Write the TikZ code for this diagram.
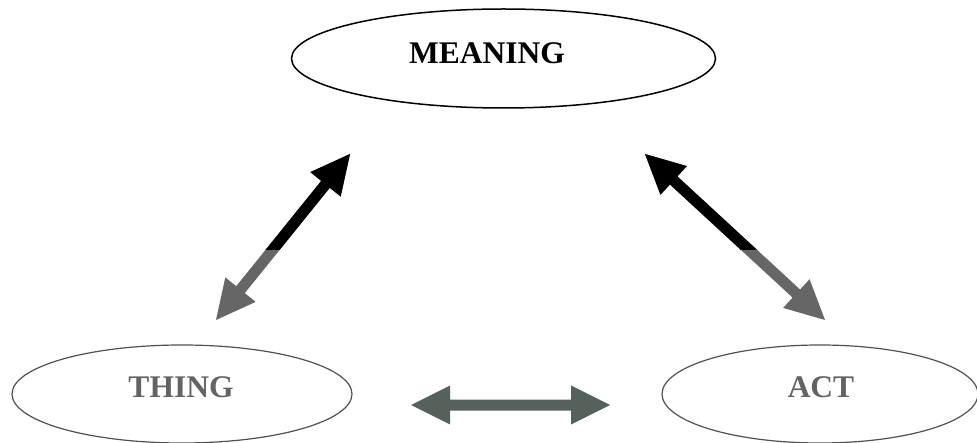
\documentclass[tikz,border=0pt]{standalone}
\usepackage{fontspec}
\setmainfont{Liberation Serif}
\usetikzlibrary{shapes.geometric,calc}
\definecolor{arrgray}{HTML}{666666}
\definecolor{arrdark}{HTML}{57615B}
\definecolor{txtgray}{HTML}{636363}
\definecolor{ringgray}{HTML}{505050}
\newcommand{\blockarrow}[3]{%
  \fill[#3] (#1)
    -- ($(#1)!39pt!(#2)!19.5pt!90:(#2)$)
    -- ($(#1)!39pt!(#2)!5.5pt!90:(#2)$)
    -- ($(#2)!39pt!(#1)!5.5pt!-90:(#1)$)
    -- ($(#2)!39pt!(#1)!19.5pt!-90:(#1)$)
    -- (#2)
    -- ($(#2)!39pt!(#1)!19.5pt!90:(#1)$)
    -- ($(#2)!39pt!(#1)!5.5pt!90:(#1)$)
    -- ($(#1)!39pt!(#2)!5.5pt!-90:(#2)$)
    -- ($(#1)!39pt!(#2)!19.5pt!-90:(#2)$)
    -- cycle;}
\tikzset{
  ring/.style={ellipse, draw, inner sep=0pt, outer sep=0pt},
  label text/.style={font=\fontsize{31.5}{36}\selectfont\bfseries, inner sep=0pt}
}
\begin{document}
\begin{tikzpicture}[x=1pt,y=-1pt]
\useasboundingbox (0,0) rectangle (977,443);
% ellipses
\node[ring, line width=1.5pt, minimum width=424pt, minimum height=99pt] (meaning) at (503.5,58.5) {};
\node[ring, draw=ringgray, line width=1.2pt, minimum width=340pt, minimum height=98pt] (thing) at (182,394) {};
\node[ring, draw=ringgray, line width=1.2pt, minimum width=316pt, minimum height=98pt] (act) at (820,394) {};
% texts
\node[label text] (meaningtxt) at (487,53) {MEANING};
\node[label text, text=txtgray] (thingtxt) at (181,387) {THING};
\node[label text, text=txtgray] (acttxt) at (821,387.5) {ACT};
% arrow end points
\coordinate (lt) at (350,154);
\coordinate (lb) at (216,320);
\coordinate (rt) at (645,154);
\coordinate (rb) at (825,320);
\coordinate (hl) at (411,405);
\coordinate (hr) at (610,405);
% diagonal arrows: gray below, black above
\blockarrow{lt}{lb}{arrgray}
\blockarrow{rt}{rb}{arrgray}
\begin{scope}
  \clip (0,0) rectangle (977,250);
  \blockarrow{lt}{lb}{black}
  \blockarrow{rt}{rb}{black}
\end{scope}
% horizontal arrow
\blockarrow{hl}{hr}{arrdark}
\end{tikzpicture}
\end{document}
